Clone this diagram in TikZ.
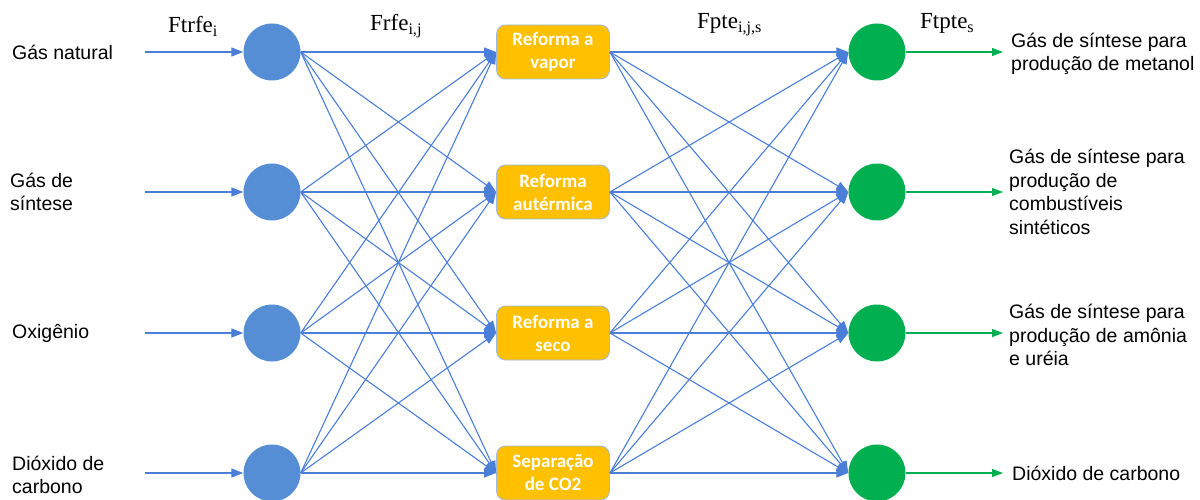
\documentclass[tikz,border=0pt]{standalone}
\usepackage{fontspec}
\setmainfont{Liberation Serif}
\newfontfamily\arialf{Liberation Sans}
\newfontfamily\calib{Carlito}
\usetikzlibrary{arrows.meta}
\definecolor{bluec}{HTML}{558ED5}
\definecolor{bluel}{HTML}{4A7ED9}
\definecolor{greenc}{HTML}{00B050}
\definecolor{orangec}{HTML}{FFC000}
\definecolor{boxline}{HTML}{9DB9E0}
\begin{document}
\begin{tikzpicture}[x=1pt,y=-1pt,
  bnode/.style={circle,fill=bluec,minimum size=57pt,inner sep=0pt},
  gnode/.style={circle,fill=greenc,minimum size=57pt,inner sep=0pt},
  pbox/.style={rectangle,rounded corners=9pt,fill=orangec,draw=boxline,line width=0.8pt,
    minimum width=113pt,minimum height=54pt,inner sep=0pt,align=center,
    text=white,font=\calib\bfseries\fontsize{19}{23}\selectfont},
  lbl/.style={anchor=west,align=left,inner sep=0pt,font=\arialf\fontsize{19.5}{23.5}\selectfont},
  flbl/.style={anchor=base west,inner sep=0pt,font=\fontsize{23}{26}\selectfont},
  bedge/.style={draw=bluel,line width=1.1pt,-{Triangle[length=12pt,width=9pt]}},
  gedge/.style={draw=greenc,line width=1.2pt,-{Triangle[length=11pt,width=8pt]}}]
\useasboundingbox (0,0) rectangle (1200,500);
\foreach \i/\y in {1/52,2/192,3/333,4/473}{
  \node[bnode] (b\i) at (272,\y) {};
  \node[gnode] (g\i) at (877,\y) {};
  \coordinate (in\i) at (145,\y);
  \coordinate (out\i) at (1003,\y);
}
\node[pbox] (r1) at (553,52) {Reforma a\\vapor};
\node[pbox] (r2) at (553,192) {Reforma\\autérmica};
\node[pbox] (r3) at (553,333) {Reforma a\\seco};
\node[pbox] (r4) at (553,473) {Separação\\de CO2};
\foreach \i in {1,...,4}{\draw[bedge] (in\i) -- (b\i.west);}
\foreach \i in {1,...,4}{\draw[gedge] (g\i.east) -- (out\i);}
\foreach \i in {1,...,4}{
  \foreach \j in {1,...,4}{
    \draw[bedge] (b\i.east) -- (r\j.west);
    \draw[bedge] (r\i.east) -- (g\j.west);
  }
}
\node[lbl] (l1) at (12,52) {Gás natural};
\node[lbl] (l2) at (10,192) {Gás de\\síntese};
\node[lbl] (l3) at (12,333) {Oxigênio};
\node[lbl] (l4) at (12,475) {Dióxido de\\carbono};
\node[lbl] (o1) at (1011,54) {Gás de síntese para\\produção de metanol};
\node[lbl] (o2) at (1009,192) {Gás de síntese para\\produção de\\combustíveis\\sintéticos};
\node[lbl] (o3) at (1009,335) {Gás de síntese para\\produção de amônia\\e uréia};
\node[lbl] (o4) at (1012,473) {Dióxido de carbono};
\node[flbl] (f1) at (168,33) {Ftrfe\textsubscript{i}};
\node[flbl] (f2) at (370,31) {Frfe\textsubscript{i,j}};
\node[flbl] (f3) at (697,29) {Fpte\textsubscript{i,j,s}};
\node[flbl] (f4) at (920,29) {Ftpte\textsubscript{s}};
\end{tikzpicture}
\end{document}
